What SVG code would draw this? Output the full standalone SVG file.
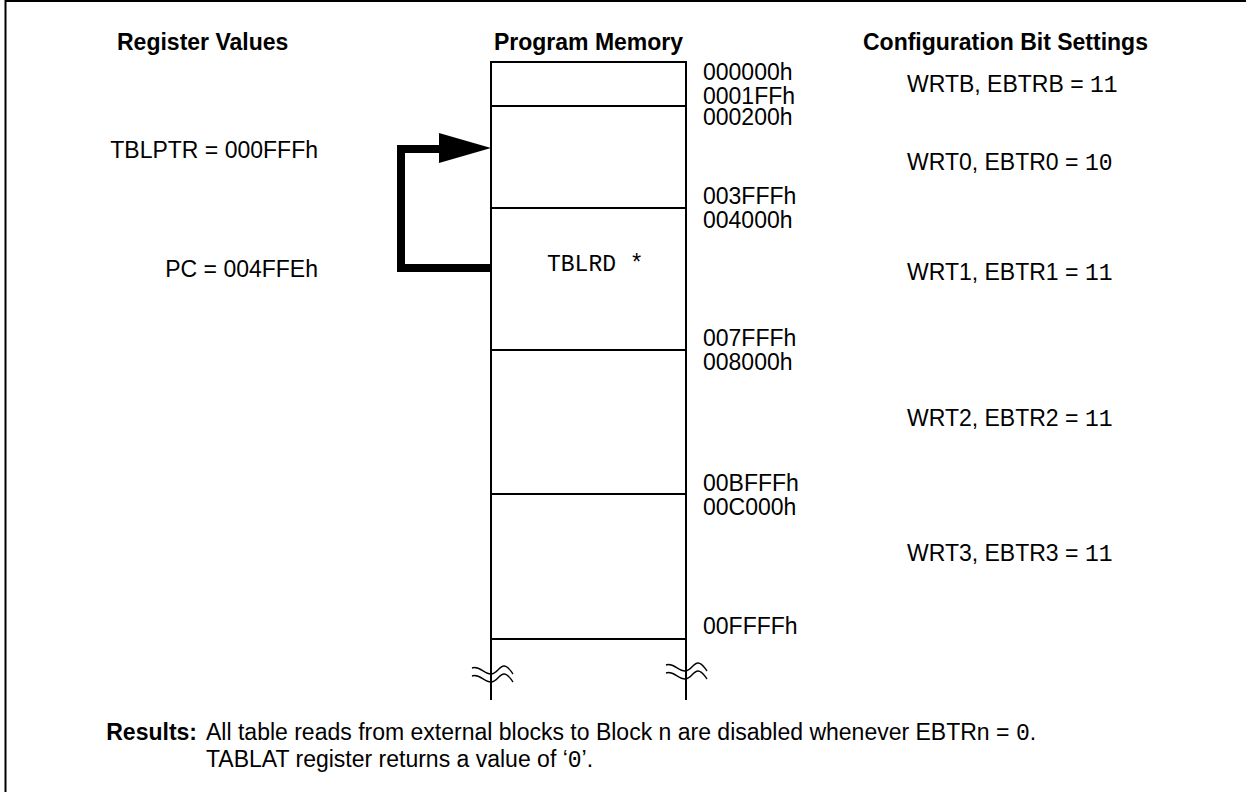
<svg xmlns="http://www.w3.org/2000/svg" width="1246" height="792" viewBox="0 0 1246 792">
<style>
text{font-family:"Liberation Sans",Arial,sans-serif;font-size:23px;fill:#000}
.b{font-weight:bold}
.m{font-family:"Liberation Mono","Courier New",monospace}
.ln{stroke:#000;stroke-width:2;fill:none}
.sq{stroke:#000;stroke-width:1.4;fill:none}
</style>
<defs>
<g id="brk">
<path class="sq" d="M0,2 C7,-1 12,8 19,8 C25,8 27,0 32,0 C36,0 38,4 41,8"/>
<path class="sq" d="M0,10 C7,7 12,16 19,16 C25,16 27,8 32,8 C36,8 38,12 41,16"/>
</g>
</defs>
<rect x="5.5" y="1" width="1400" height="1000" fill="#fff" stroke="#000" stroke-width="2"/>
<g id="headers">
<text class="b" x="117" y="50">Register Values</text>
<text class="b" x="588.5" y="50" text-anchor="middle">Program Memory</text>
<text class="b" x="863" y="50">Configuration Bit Settings</text>
</g>
<g id="registers">
<text x="318" y="158" text-anchor="end">TBLPTR = 000FFFh</text>
<text x="318" y="277" text-anchor="end">PC = 004FFEh</text>
</g>
<g id="memory">
<path class="ln" d="M491,700 V62 H686 V700"/>
<line class="ln" x1="491" y1="106" x2="686" y2="106"/>
<line class="ln" x1="491" y1="208" x2="686" y2="208"/>
<line class="ln" x1="491" y1="350" x2="686" y2="350"/>
<line class="ln" x1="491" y1="494" x2="686" y2="494"/>
<line class="ln" x1="491" y1="639" x2="686" y2="639"/>
<use href="#brk" x="472" y="666"/>
<use href="#brk" x="666" y="663"/>
<text class="m" x="547" y="271">TBLRD *</text>
</g>
<g id="addresses">
<text x="703" y="80">000000h</text>
<text x="703" y="104">0001FFh</text>
<text x="703" y="125">000200h</text>
<text x="703" y="204">003FFFh</text>
<text x="703" y="228">004000h</text>
<text x="703" y="346">007FFFh</text>
<text x="703" y="370">008000h</text>
<text x="703" y="491">00BFFFh</text>
<text x="703" y="515">00C000h</text>
<text x="703" y="634">00FFFFh</text>
</g>
<g id="config">
<text x="907" y="92">WRTB, EBTRB = <tspan class="m">11</tspan></text>
<text x="907" y="170">WRT0, EBTR0 = <tspan class="m">10</tspan></text>
<text x="907" y="280">WRT1, EBTR1 = <tspan class="m">11</tspan></text>
<text x="907" y="426">WRT2, EBTR2 = <tspan class="m">11</tspan></text>
<text x="907" y="561">WRT3, EBTR3 = <tspan class="m">11</tspan></text>
</g>
<g id="connectors">
<polyline points="491,268 401,268 401,149 442,149" fill="none" stroke="#000" stroke-width="8" stroke-linejoin="miter"/>
<polygon points="439,133 491,148 439,163" fill="#000"/>
</g>
<g id="results">
<text class="b" x="197" y="740" text-anchor="end">Results:</text>
<text x="206" y="740">All table reads from external blocks to Block n are disabled whenever EBTRn = <tspan class="m">0</tspan>.</text>
<text x="206" y="767">TABLAT register returns a value of ‘<tspan class="m">0</tspan>’.</text>
</g>
</svg>
